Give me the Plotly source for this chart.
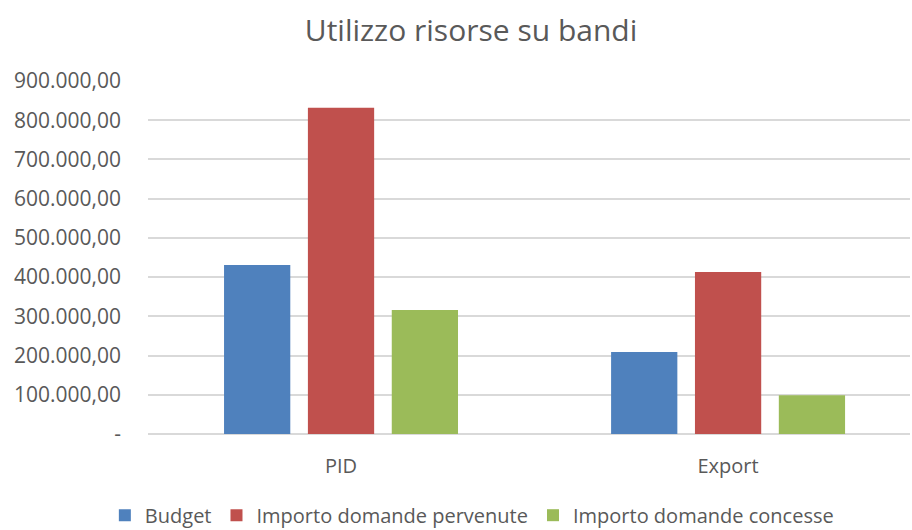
import plotly.graph_objects as go

categories = ["PID", "Export"]
budget = [431000, 209000]
pervenute = [832000, 413000]
concesse = [316000, 99000]

series_names = ["Budget", "Importo domande pervenute", "Importo domande concesse"]
series_values = [budget, pervenute, concesse]
series_colors = ["#4F81BD", "#C0504D", "#9BBB59"]

tick_vals = [0, 100000, 200000, 300000, 400000, 500000, 600000, 700000, 800000, 900000]
tick_text = ["-", "100.000,00", "200.000,00", "300.000,00", "400.000,00",
             "500.000,00", "600.000,00", "700.000,00", "800.000,00", "900.000,00"]

FONT = "Open Sans"
GREY = "#595959"

fig = go.Figure()
for name, vals, col in zip(series_names, series_values, series_colors):
    fig.add_trace(go.Bar(x=categories, y=vals, name=name, marker_color=col,
                         marker_line_width=0))

fig.update_layout(
    width=912, height=530,
    margin=dict(l=148, r=2, t=81, b=96, autoexpand=False),
    paper_bgcolor="white", plot_bgcolor="white",
    barmode="group", bargap=0.35, bargroupgap=0.21,
    font=dict(family=FONT, color=GREY, size=20),
    title=dict(text="Utilizzo risorse su bandi", x=471 / 912, xanchor="center",
               y=1 - 30 / 530, yanchor="middle",
               font=dict(family=FONT, size=30, color=GREY)),
    xaxis=dict(range=[-0.4987, 1.47], showline=False, ticks="",
               ticklabelstandoff=18,
               tickfont=dict(size=20, color=GREY)),
    yaxis=dict(range=[0, 900000], tickvals=tick_vals, ticktext=tick_text,
               showgrid=True, gridcolor="#D9D9D9", gridwidth=1.5,
               zeroline=True, zerolinecolor="#D9D9D9", zerolinewidth=1.5,
               ticks="", ticklabelstandoff=26,
               tickfont=dict(size=21, color=GREY)),
    legend=dict(orientation="h", x=0.425, xanchor="center",
                y=-0.23, yanchor="middle", itemwidth=30,
                font=dict(size=20, color=GREY), traceorder="normal"),
)

fig.write_html("out.html")
